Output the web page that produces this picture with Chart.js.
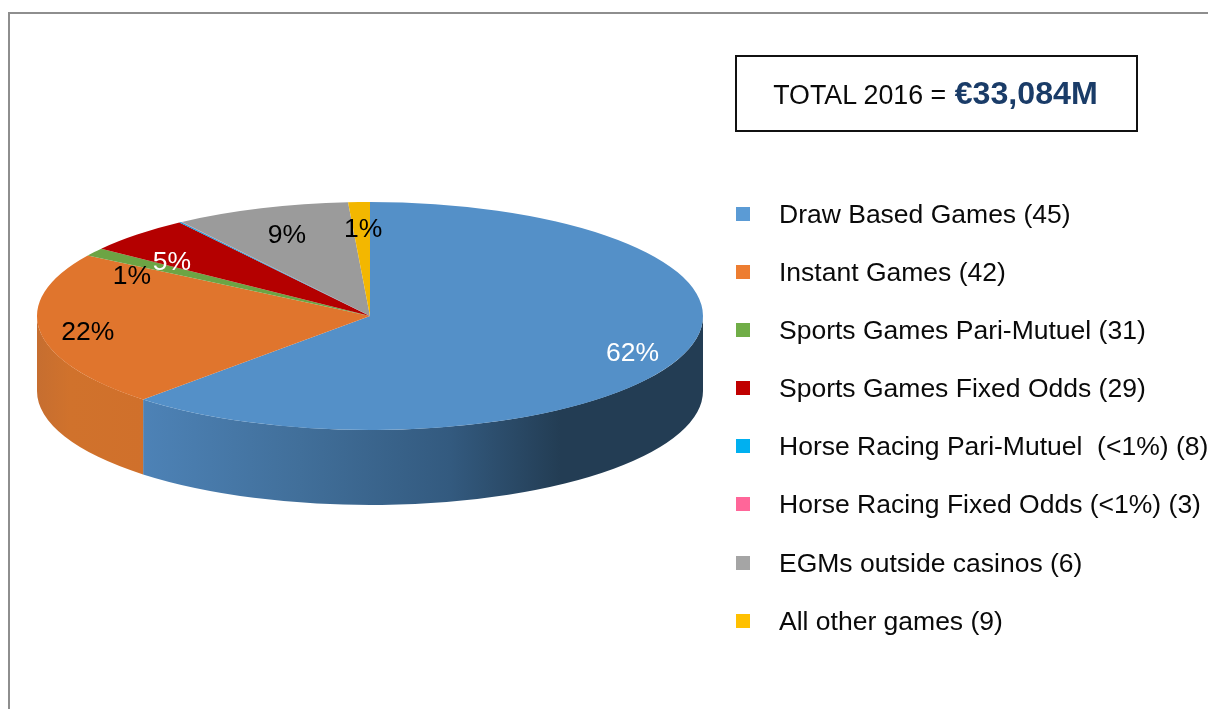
<!DOCTYPE html>
<html>
<head>
<meta charset="utf-8">
<script src="https://cdn.jsdelivr.net/npm/chart.js@4/dist/chart.umd.min.js"></script>
<style>
html,body{margin:0;padding:0;background:#fff;width:1208px;height:709px;overflow:hidden;font-family:"Liberation Sans",Arial,sans-serif}
#frame{position:absolute;left:8px;top:12px;width:1300px;height:800px;border:2px solid #8e8e8e;box-sizing:border-box}
canvas{position:absolute;left:0;top:0}
#total{position:absolute;left:735px;top:55px;width:403px;height:77px;border:2px solid #111;box-sizing:border-box;text-align:center;line-height:73px;font-size:26.8px;color:#0a0a0a;white-space:pre;padding-right:2px}
#total b{font-size:32.2px;color:#1a3c68;margin-left:1px}
#legend{position:absolute;left:736px;top:185.5px;white-space:pre}
.row{height:58.2px;line-height:57px;font-size:26.5px;color:#0a0a0a;position:relative;padding-left:43px;width:480px}
.row i{position:absolute;left:0;top:21px;width:14px;height:14px}
</style>
</head>
<body>
<div id="frame"></div>
<canvas id="c" width="1208" height="709"></canvas>
<div id="total"><span id="totalLabel"></span><b id="totalValue"></b></div>
<div id="legend"></div>
<script>
const categories = ["Draw Based Games (45)","Instant Games (42)","Sports Games Pari-Mutuel (31)","Sports Games Fixed Odds (29)","Horse Racing Pari-Mutuel  (<1%) (8)","Horse Racing Fixed Odds (<1%) (3)","EGMs outside casinos (6)","All other games (9)"];
const shares = [61.93,21.97,1.15,5.25,0.1,0.05,8.5,1.05];
const totalLabel = "TOTAL 2016 = ";
const totalValue = "€33,084M";
const legendColors = ["#5b9bd5","#ed7d31","#70ad47","#c00000","#00b0f0","#ff6699","#a5a5a5","#ffc000"];
const sliceColors = ["#5490c8","#e0752d","#6ca444","#b40000","#00a7e4","#f0609a","#9b9b9b","#f3b700"];
const labelColors = ["#fff","#000","#000","#fff","#000","#000","#000","#000"];
const labelRadius = [0.843,0.855,0.808,0.777,0,0,0.778,0.79];
const labelTurn = [-0.8,0,-6.3,-5.6,0,0,0.4,0.4];

const CY = 316, SQUASH = 114/333, DEPTH = 75, LABEL_DROP = 4;
const sideStops = {
  0:[[144,"#4d82b6"],[300,"#416f9a"],[450,"#335a7f"],[560,"#233d54"],[703,"#233d54"]],
  1:[[37,"#c66e30"],[70,"#d0722c"],[144,"#d0702b"]]
};

const pie3d = {
  id:"pie3d",
  beforeDatasetsDraw(chart){
    const ctx = chart.ctx, arcs = chart.getDatasetMeta(0).data;
    arcs.forEach((arc,i)=>{
      let a = Math.max(arc.startAngle,0), b = Math.min(arc.endAngle,Math.PI);
      if(b<=a) return;
      const R = arc.outerRadius, ry = R*SQUASH, x = arc.x;
      ctx.beginPath();
      ctx.ellipse(x,CY,R,ry,0,a,b,false);
      ctx.ellipse(x,CY+DEPTH,R,ry,0,b,a,true);
      ctx.closePath();
      const stops = sideStops[i];
      if(stops){
        const x0 = stops[0][0], x1 = stops[stops.length-1][0];
        const g = ctx.createLinearGradient(x0,0,x1,0);
        stops.forEach(s=>g.addColorStop((s[0]-x0)/(x1-x0),s[1]));
        ctx.fillStyle = g;
      } else ctx.fillStyle = sliceColors[i];
      ctx.fill();
    });
    ctx.save();
    ctx.translate(0,CY);
    ctx.scale(1,SQUASH);
    ctx.translate(0,-arcs[0].y);
  },
  afterDatasetsDraw(chart){
    const ctx = chart.ctx, arcs = chart.getDatasetMeta(0).data;
    ctx.restore();
    ctx.save();
    ctx.font = '26.5px "Liberation Sans", Arial, sans-serif';
    ctx.textAlign = "center";
    ctx.textBaseline = "middle";
    arcs.forEach((arc,i)=>{
      if(shares[i] < 1) return;
      const mid = (arc.startAngle+arc.endAngle)/2 + labelTurn[i]*Math.PI/180;
      const r = arc.outerRadius*labelRadius[i];
      ctx.fillStyle = labelColors[i];
      ctx.fillText(Math.round(shares[i])+"%", arc.x+Math.cos(mid)*r, CY+LABEL_DROP+Math.sin(mid)*r*SQUASH);
    });
    ctx.restore();
  }
};

new Chart(document.getElementById("c"),{
  type:"pie",
  data:{labels:categories,datasets:[{data:shares,backgroundColor:sliceColors,borderWidth:0}]},
  options:{
    responsive:false,animation:false,
    layout:{padding:{left:37,right:505,top:20,bottom:23}},
    events:[],
    plugins:{legend:{display:false},tooltip:{enabled:false}}
  },
  plugins:[pie3d]
});

document.getElementById("totalLabel").textContent = totalLabel;
document.getElementById("totalValue").textContent = totalValue;
const lg = document.getElementById("legend");
categories.forEach((t,i)=>{
  const row = document.createElement("div"); row.className="row";
  const sw = document.createElement("i"); sw.style.background = legendColors[i];
  row.appendChild(sw); row.appendChild(document.createTextNode(t));
  lg.appendChild(row);
});
</script>
</body>
</html>
